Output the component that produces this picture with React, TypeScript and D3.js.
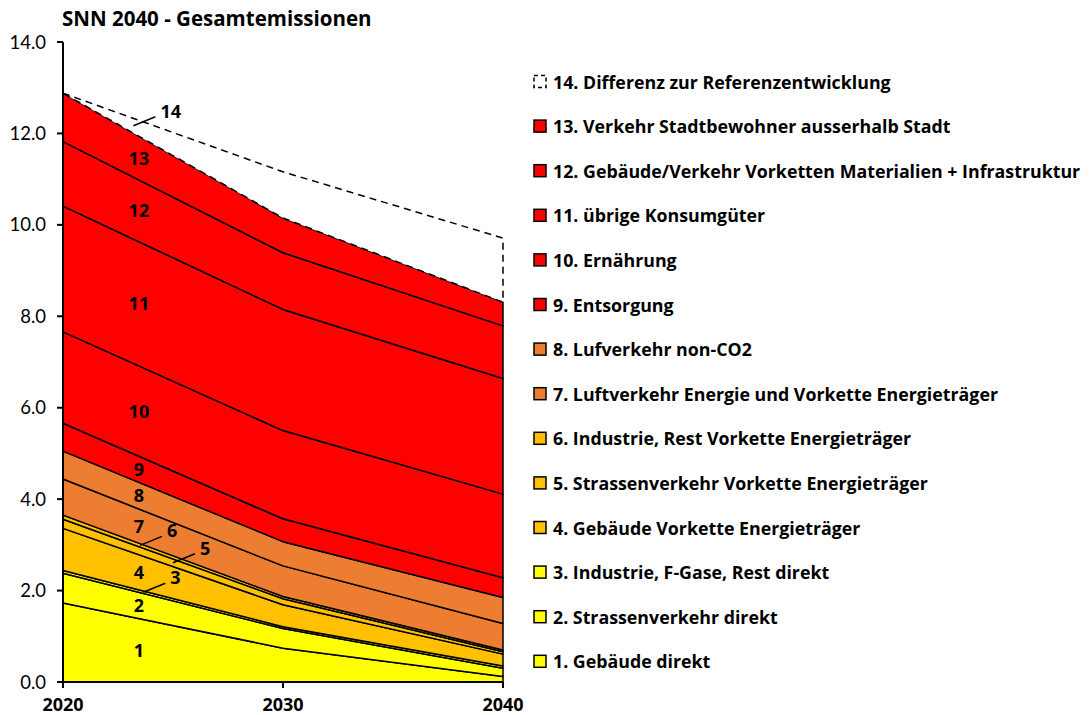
import React from "react";
import * as d3 from "d3";

const years = [2020, 2030, 2040];
const yTicks = [0, 2, 4, 6, 8, 10, 12, 14];
const title = "SNN 2040 - Gesamtemissionen";

const seriesNames = [
  "1. Gebäude direkt",
  "2. Strassenverkehr direkt",
  "3. Industrie, F-Gase, Rest direkt",
  "4. Gebäude Vorkette Energieträger",
  "5. Strassenverkehr Vorkette Energieträger",
  "6. Industrie, Rest Vorkette Energieträger",
  "7. Luftverkehr Energie und Vorkette Energieträger",
  "8. Lufverkehr non-CO2",
  "9. Entsorgung",
  "10. Ernährung",
  "11. übrige Konsumgüter",
  "12. Gebäude/Verkehr Vorketten Materialien + Infrastruktur",
  "13. Verkehr Stadtbewohner ausserhalb Stadt",
  "14. Differenz zur Referenzentwicklung",
];

const s1 = [1.73, 0.74, 0.12];
const s2 = [0.65, 0.43, 0.18];
const s3 = [0.06, 0.04, 0.05];
const s4 = [0.92, 0.48, 0.26];
const s5 = [0.2, 0.13, 0.05];
const s6 = [0.09, 0.05, 0.04];
const s7 = [0.79, 0.67, 0.58];
const s8 = [0.61, 0.53, 0.57];
const s9 = [0.61, 0.5, 0.43];
const s10 = [2.0, 1.93, 1.83];
const s11 = [2.75, 2.65, 2.53];
const s12 = [1.41, 1.24, 1.15];
const s13 = [1.06, 0.76, 0.52];
const s14 = [0.0, 1.01, 1.4];
const seriesValues = [s1, s2, s3, s4, s5, s6, s7, s8, s9, s10, s11, s12, s13, s14];

const seriesColors = [
  "#FFFF00", "#FFFF00", "#FFFF00",
  "#FFC000", "#FFC000", "#FFC000",
  "#ED7D31", "#ED7D31",
  "#FF0000", "#FF0000", "#FF0000", "#FF0000", "#FF0000",
  "#FFFFFF",
];

// label placement: series index -> year along the band, optional leader offset
const labelYear = 2023.45;
const leaderLabels: { [k: number]: { year: number } } = {
  13: { year: 2023.2 },
  5: { year: 2023.5 },
  4: { year: 2025.0 },
  2: { year: 2023.65 },
};

const BOLD = "'Open Sans', Lato, sans-serif";
const REG = "Lato, 'Open Sans', sans-serif";

export default function App() {
  const W = 1089;
  const H = 715;
  const x = d3.scaleLinear().domain([2020, 2040]).range([63, 503]);
  const y = d3.scaleLinear().domain([0, 14]).range([682, 42]);

  const keys = seriesValues.map((_, i) => "s" + i);
  const table = years.map((yr, j) => {
    const row: any = { year: yr };
    seriesValues.forEach((vals, i) => (row["s" + i] = vals[j]));
    return row;
  });
  const stacked = d3.stack().keys(keys)(table);

  const area = d3
    .area<any>()
    .x((d) => x(d.data.year))
    .y0((d) => y(d[0]))
    .y1((d) => y(d[1]));

  const bandAt = (i: number, yr: number) => {
    const layer = stacked[i];
    const t = (yr - 2020) / 10;
    const a = t <= 1 ? layer[0] : layer[1];
    const b = t <= 1 ? layer[1] : layer[2];
    const f = t <= 1 ? t : t - 1;
    const lo = a[0] + (b[0] - a[0]) * f;
    const hi = a[1] + (b[1] - a[1]) * f;
    return (lo + hi) / 2;
  };

  const legendTop = 82;
  const legendStep = 44.6;

  return (
    <svg
      width={W}
      height={H}
      style={{ position: "absolute", left: 0, top: 0, background: "#fff" }}
    >
      <text x={62} y={26} fontSize={20.5} fontWeight="bold" fontFamily={BOLD} fill="#000">
        {title}
      </text>

      {stacked.map((layer, i) => (
        <path
          key={i}
          d={area(layer as any) || ""}
          fill={seriesColors[i]}
          stroke="#000"
          strokeWidth={1.5}
          strokeDasharray={i === 13 ? "7,5" : undefined}
          strokeLinejoin="round"
        />
      ))}

      {/* axes */}
      <line x1={63} x2={63} y1={y(14)} y2={y(0)} stroke="#000" strokeWidth={2} />
      <line x1={63} x2={503} y1={y(0)} y2={y(0)} stroke="#000" strokeWidth={2} />
      {yTicks.map((t) => (
        <g key={t}>
          <line x1={57} x2={63} y1={y(t)} y2={y(t)} stroke="#000" strokeWidth={2} />
          <text x={46} y={y(t) + 6.5} textAnchor="end" fontSize={18.5} fontFamily={REG} fill="#000">
            {t.toFixed(1)}
          </text>
        </g>
      ))}
      {years.map((yr) => (
        <g key={yr}>
          <line x1={x(yr)} x2={x(yr)} y1={y(0)} y2={y(0) + 6} stroke="#000" strokeWidth={2} />
          <text x={x(yr)} y={711} textAnchor="middle" fontSize={18} fontWeight="bold" fontFamily={BOLD} fill="#000">
            {yr}
          </text>
        </g>
      ))}

      {/* in-chart series labels */}
      {seriesValues.map((_, i) => {
        const num = String(i + 1);
        const lead = leaderLabels[i];
        if (lead) {
          const px = x(lead.year);
          const py = y(bandAt(i, lead.year));
          const ex = px + 22;
          const ey = py - 9;
          return (
            <g key={"l" + i}>
              <line x1={px} y1={py} x2={ex} y2={ey} stroke="#000" strokeWidth={1.5} />
              <text x={ex + 5} y={ey + 1} fontSize={18} fontWeight="bold" fontFamily={BOLD} fill="#000">
                {num}
              </text>
            </g>
          );
        }
        return (
          <text
            key={"l" + i}
            x={x(labelYear)}
            y={y(bandAt(i, labelYear)) + 6.5}
            textAnchor="middle"
            fontSize={18}
            fontWeight="bold"
            fontFamily={BOLD}
            fill="#000"
          >
            {num}
          </text>
        );
      })}

      {/* legend */}
      {seriesNames
        .map((name, i) => ({ name, i }))
        .reverse()
        .map((d, k) => {
          const cy = legendTop + k * legendStep;
          return (
            <g key={"g" + d.i}>
              <rect
                x={534}
                y={cy - 6.5}
                width={12}
                height={12}
                fill={seriesColors[d.i]}
                stroke="#000"
                strokeWidth={1.5}
                strokeDasharray={d.i === 13 ? "4,3" : undefined}
              />
              <text x={553} y={cy + 6.5} fontSize={17.8} fontWeight="bold" fontFamily={BOLD} fill="#000">
                {d.name}
              </text>
            </g>
          );
        })}
    </svg>
  );
}
